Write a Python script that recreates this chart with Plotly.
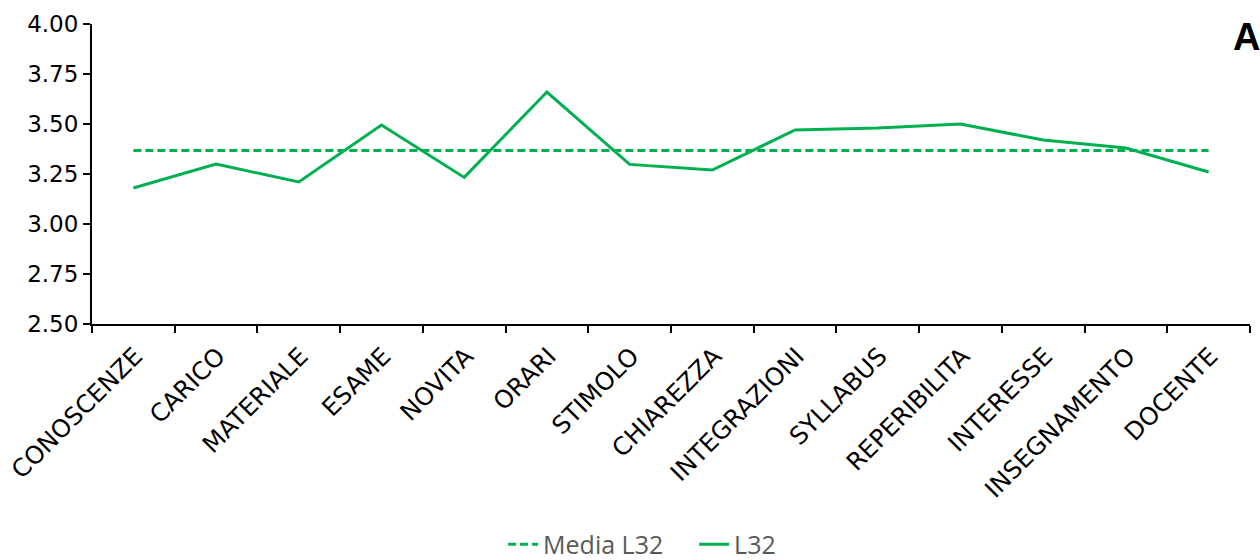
import plotly.graph_objects as go

categories = ["CONOSCENZE", "CARICO", "MATERIALE", "ESAME", "NOVITA", "ORARI", "STIMOLO",
              "CHIAREZZA", "INTEGRAZIONI", "SYLLABUS", "REPERIBILITA", "INTERESSE",
              "INSEGNAMENTO", "DOCENTE"]
l32 = [3.18, 3.30, 3.21, 3.495, 3.233, 3.66, 3.298, 3.27, 3.47, 3.48, 3.50, 3.42, 3.38, 3.26]
media_l32 = [3.367] * len(categories)

GREEN = "#00B050"

fig = go.Figure()
fig.add_trace(go.Scatter(x=categories, y=media_l32, mode="lines", name="Media L32",
                         line=dict(color=GREEN, width=3, dash="8px,4px")))
fig.add_trace(go.Scatter(x=categories, y=l32, mode="lines", name="L32",
                         line=dict(color=GREEN, width=3)))

fig.update_layout(
    width=1260, height=560,
    margin=dict(l=92, r=10, t=24, b=236, autoexpand=False),
    paper_bgcolor="white", plot_bgcolor="white",
    font=dict(family="DejaVu Sans", size=22, color="black"),
    showlegend=True,
    legend=dict(orientation="h", x=0.355, xanchor="left", y=-0.735, yanchor="middle",
                font=dict(family="Open Sans", size=25, color="#595959"),
                itemwidth=30, tracegroupgap=0, entrywidth=146),
    xaxis=dict(type="category", range=[-0.5, len(categories) - 0.5], tickangle=-45,
               showline=True, linecolor="black", linewidth=2,
               ticks="outside", ticklen=7, tickcolor="black", tickwidth=1.5,
               tickson="boundaries", showgrid=False, zeroline=False, automargin=False,
               ticklabelshift=2, ticklabelstandoff=6,
               tickfont=dict(family="DejaVu Sans", size=24.5, color="black")),
    yaxis=dict(range=[2.5, 4.0], dtick=0.25, tickformat=".2f", showline=True,
               linecolor="black", linewidth=2, ticks="outside", ticklen=7,
               tickcolor="black", tickwidth=1.5, showgrid=False, zeroline=False,
               automargin=False,
               tickfont=dict(family="DejaVu Sans", size=23, color="black")),
)

fig.add_annotation(text="<b>A</b>", xref="paper", yref="paper", x=1.0, y=1.0,
                   xanchor="left", yanchor="top", xshift=-19, yshift=10, showarrow=False,
                   font=dict(family="Liberation Sans", size=38, color="black"))

fig.write_html("out.html")
